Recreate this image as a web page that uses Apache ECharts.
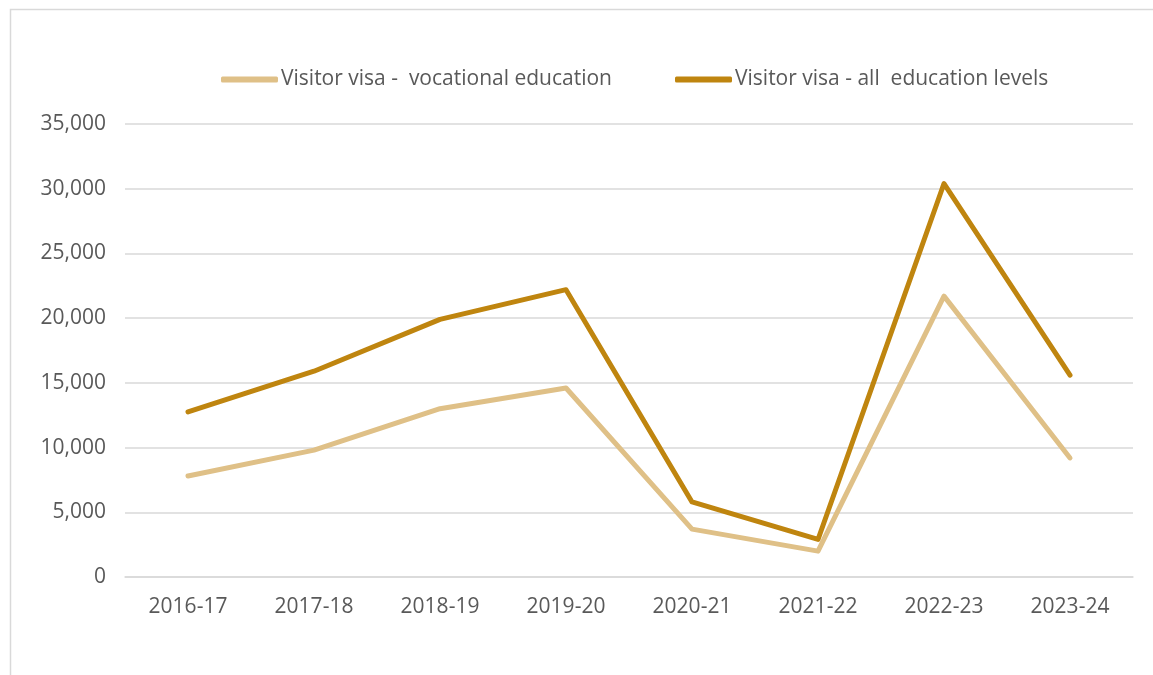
<!DOCTYPE html>
<html>
<head>
<meta charset="utf-8">
<script src="https://cdn.jsdelivr.net/npm/echarts@6/dist/echarts.min.js"></script>
<style>
  html, body { margin: 0; padding: 0; background: #fff; }
  #chart { width: 1153px; height: 675px; }
</style>
</head>
<body>
<div id="chart"></div>
<script>
// Financial years on the category axis
const years = ['2016-17', '2017-18', '2018-19', '2019-20', '2020-21', '2021-22', '2022-23', '2023-24'];

// Visitor visa holders studying vocational education
const vocational = [7800, 9800, 13000, 14600, 3700, 2000, 21700, 9200];

// Visitor visa holders across all education levels
const allLevels = [12750, 15900, 19900, 22200, 5800, 2900, 30400, 15600];

const seriesNames = ['Visitor visa -  vocational education', 'Visitor visa - all  education levels'];
const yTicks = { min: 0, max: 35000, interval: 5000 };

const FONT = '"Open Sans", "Noto Sans", sans-serif';
const TEXT = '#595959';
const GRID = '#d9d9d9';

const chart = echarts.init(document.getElementById('chart'), null, { renderer: 'canvas' });

chart.setOption({
  backgroundColor: '#ffffff',
  animation: false,
  graphic: [{
    // frame around the chart area (top and left edges)
    type: 'polyline',
    shape: { points: [[10.5, 675], [10.5, 9.5], [1153, 9.5]] },
    style: { fill: null, stroke: GRID, lineWidth: 1.5 },
    silent: true
  }],
  legend: {
    top: 64,
    left: 216,
    itemWidth: 57,
    itemHeight: 6,
    itemGap: 63,
    icon: 'roundRect',
    textStyle: { fontFamily: FONT, fontSize: 21, color: TEXT, padding: [0, 0, 0, -2] },
    data: seriesNames
  },
  grid: { left: 125, right: 20, top: 124, bottom: 98 },
  xAxis: {
    type: 'category',
    data: years,
    boundaryGap: true,
    axisLine: { lineStyle: { color: GRID, width: 1.5 } },
    axisTick: { show: false },
    axisLabel: { fontFamily: FONT, fontSize: 21, color: TEXT, margin: 20 }
  },
  yAxis: {
    type: 'value',
    min: yTicks.min,
    max: yTicks.max,
    interval: yTicks.interval,
    axisLine: { show: false },
    axisTick: { show: false },
    splitLine: { lineStyle: { color: GRID, width: 1.5 } },
    axisLabel: {
      fontFamily: FONT, fontSize: 21, color: TEXT, margin: 19,
      formatter: v => v.toLocaleString('en-US')
    }
  },
  series: [
    {
      name: seriesNames[0],
      type: 'line',
      data: vocational,
      showSymbol: false,
      color: '#dfc087',
      lineStyle: { width: 5, color: '#dfc087', cap: 'round', join: 'round' },
      z: 2
    },
    {
      name: seriesNames[1],
      type: 'line',
      data: allLevels,
      showSymbol: false,
      color: '#bf850f',
      lineStyle: { width: 5, color: '#bf850f', cap: 'round', join: 'round' },
      z: 3
    }
  ]
});
</script>
</body>
</html>
